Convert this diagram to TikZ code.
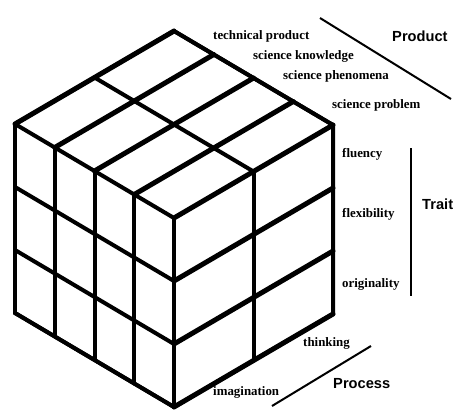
\documentclass[tikz,border=0pt]{standalone}
\usepackage{fontspec}
\setmainfont{Liberation Serif}
\setsansfont{Liberation Sans}
\usetikzlibrary{positioning}

\begin{document}
\begin{tikzpicture}[
      x=0.03cm, y=-0.03cm,%
      thickedge/.style={line width=0.15cm, line cap=round},%
      thinedge/.style={line width=0.12cm, line cap=round},%
      itemlbl/.style={anchor=base west, inner sep=0, font=\bfseries\fontsize{11}{13}\selectfont},%
      dimlbl/.style={anchor=base west, inner sep=0, font=\sffamily\bfseries\fontsize{12.5}{15}\selectfont},%
      dimline/.style={line width=0.06cm}%
    ]
    \useasboundingbox (0,0) rectangle (462,416);

    %% Outline
    \draw[thinedge, line join=miter] (15,124) -- (174,31) -- (333,125) -- (333,314)
                      -- (174,407) -- (15,313) -- cycle;

    %% Top face, lines going up-right
    \draw[thickedge] (174,218)    -- (333,125);
    \draw[thickedge] (134.25,194.5) -- (293.25,101.5);
    \draw[thickedge] (94.5,171)   -- (253.5,78);
    \draw[thickedge] (54.75,147.5) -- (213.75,54.5);
    \draw[thickedge] (15,124)     -- (174,31);

    %% Top face, lines going down-right
    \draw[thinedge] (15,124)  -- (174,218);
    \draw[thinedge] (94.5,77.5) -- (253.5,171.5);
    \draw[thinedge] (174,31)  -- (333,125);

    %% Left face
    \draw[thinedge] (174,218)     -- (174,407);
    \draw[thinedge] (134.25,194.5) -- (134.25,383.5);
    \draw[thinedge] (94.5,171)    -- (94.5,360);
    \draw[thinedge] (54.75,147.5) -- (54.75,336.5);
    \draw[thinedge] (15,124)      -- (15,313);
    \draw[thinedge] (15,187) -- (174,281);
    \draw[thinedge] (15,250) -- (174,344);
    \draw[thinedge] (15,313) -- (174,407);

    %% Right face
    \draw[thinedge] (253.5,171.5) -- (253.5,360.5);
    \draw[thinedge] (333,125)     -- (333,314);
    \draw[thickedge] (174,281) -- (333,188);
    \draw[thickedge] (174,344) -- (333,251);
    \draw[thickedge] (174,407) -- (333,314);

    %% Product labels
    \node[itemlbl] (techprod)  at (213,39)  {technical product};
    \node[itemlbl] (sciknow)   at (253,59)  {science knowledge};
    \node[itemlbl] (sciphen)   at (283,79)  {science phenomena};
    \node[itemlbl] (sciprob)   at (332,108) {science problem};
    \node[dimlbl]  (product)   at (392,41)  {Product};
    \coordinate (prodA) at (320,18);
    \coordinate (prodB) at (451,99);
    \draw[dimline] (prodA) -- (prodB);

    %% Trait labels
    \node[itemlbl] (fluency)   at (342,157) {fluency};
    \node[itemlbl] (flexib)    at (342,217) {flexibility};
    \node[itemlbl] (original)  at (342,287) {originality};
    \node[dimlbl]  (trait)     at (422,209) {Trait};
    \coordinate (traitA) at (411,148);
    \coordinate (traitB) at (411,296);
    \draw[dimline] (traitA) -- (traitB);

    %% Process labels
    \node[itemlbl] (thinking)  at (303,346) {thinking};
    \node[itemlbl] (imagin)    at (213,395) {imagination};
    \node[dimlbl]  (process)   at (333,388) {Process};
    \coordinate (procA) at (272,406);
    \coordinate (procB) at (371,346);
    \draw[dimline] (procA) -- (procB);
  \end{tikzpicture}
\end{document}
